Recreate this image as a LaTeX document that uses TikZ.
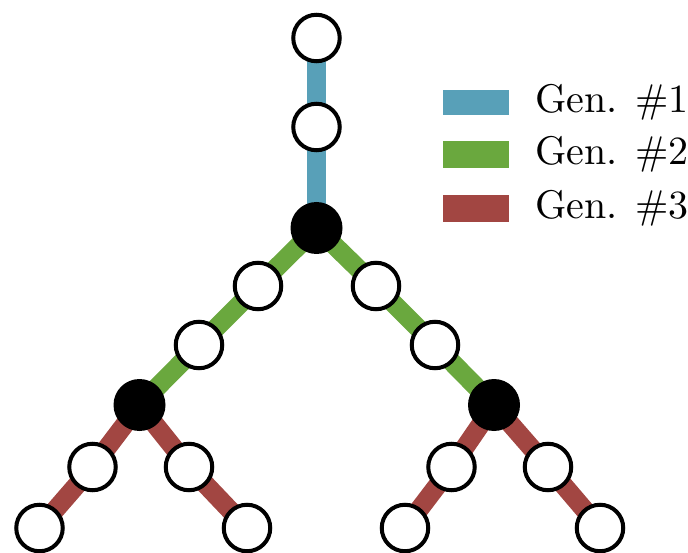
\documentclass[tikz,border=0pt]{standalone}
\usepackage{graphicx}
\definecolor{genA}{RGB}{88,160,184}
\definecolor{genB}{RGB}{106,168,62}
\definecolor{genC}{RGB}{162,70,66}
\pgfdeclarelayer{bg}
\pgfsetlayers{bg,main}
\tikzset{
  wnode/.style={circle,draw=black,fill=white,line width=4pt,minimum size=46.5pt,inner sep=0pt},
  bnode/.style={circle,fill=black,minimum size=52pt,inner sep=0pt},
  edgeA/.style={draw=genA,line width=19pt},
  edgeB/.style={draw=genB,line width=19pt},
  edgeC/.style={draw=genC,line width=19pt},
  legtext/.style={anchor=base west,inner sep=0pt},
}
\begin{document}
\begin{tikzpicture}[x=1pt,y=-1pt]
\useasboundingbox (0,0) rectangle (688,553);
% nodes
\node[wnode] (t1) at (316.5,38) {};
\node[wnode] (t2) at (316.5,127) {};
\node[bnode] (h) at (316.5,228) {};
\node[wnode] (l1) at (258,286) {};
\node[wnode] (l2) at (199,345) {};
\node[bnode] (lb) at (139.5,405) {};
\node[wnode] (r1) at (376,286) {};
\node[wnode] (r2) at (435,345) {};
\node[bnode] (rb) at (494,405) {};
\node[wnode] (ll1) at (92.5,467) {};
\node[wnode] (ll2) at (39.5,528) {};
\node[wnode] (lr1) at (189,467) {};
\node[wnode] (lr2) at (247,528) {};
\node[wnode] (rl1) at (451.5,467) {};
\node[wnode] (rl2) at (405,528) {};
\node[wnode] (rr1) at (548,467) {};
\node[wnode] (rr2) at (600,528) {};
% edges behind nodes
\begin{pgfonlayer}{bg}
\path[edgeA] (t1.center) -- (t2.center) -- (h.center);
\path[edgeB] (h.center) -- (l1.center) -- (l2.center) -- (lb.center);
\path[edgeB] (h.center) -- (r1.center) -- (r2.center) -- (rb.center);
\path[edgeC] (lb.center) -- (ll1.center) -- (ll2.center);
\path[edgeC] (lb.center) -- (lr1.center) -- (lr2.center);
\path[edgeC] (rb.center) -- (rl1.center) -- (rl2.center);
\path[edgeC] (rb.center) -- (rr1.center) -- (rr2.center);
\end{pgfonlayer}
% legend
\fill[genA] (443,90) rectangle (509,115);
\fill[genB] (443,141) rectangle (509,168);
\fill[genC] (443,195) rectangle (509,222);
\node[legtext] (g1) at (535,112.7) {\scalebox{4}{Gen. \#1}};
\node[legtext] (g2) at (535,164.7) {\scalebox{4}{Gen. \#2}};
\node[legtext] (g3) at (535,218.7) {\scalebox{4}{Gen. \#3}};
\end{tikzpicture}
\end{document}
